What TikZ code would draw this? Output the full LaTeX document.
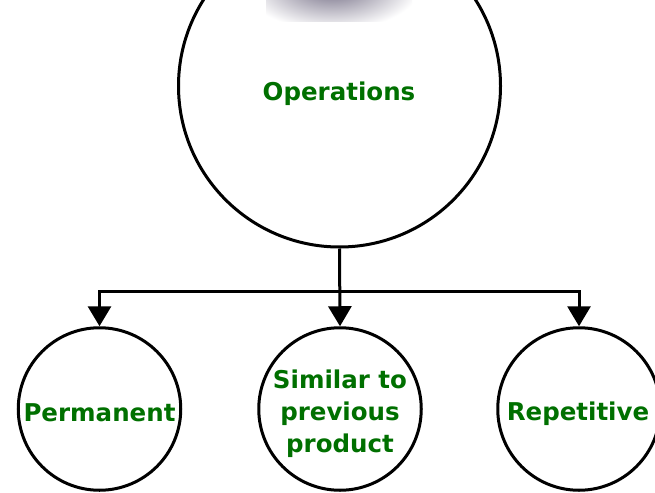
\documentclass[tikz,border=0pt]{standalone}
\usepackage{fontspec}
\setsansfont{DejaVu Sans}
\usetikzlibrary{arrows.meta}
\definecolor{labelgreen}{RGB}{0,112,0}
\definecolor{hazegray}{RGB}{112,106,130}
\tikzset{
  x=1pt, y=-1pt,
  outline/.style={draw=black, line width=3pt},
  rootcircle/.style={outline, circle, minimum size=322pt, inner sep=0pt},
  leafcircle/.style={outline, circle, minimum size=162.5pt, inner sep=0pt},
  caption/.style={text=labelgreen, font=\sffamily\bfseries\fontsize{24.5}{32}\selectfont,
    inner sep=0pt, align=center},
  oneline/.style={caption, text height=18pt, text depth=0pt},
  link/.style={draw=black, line width=3pt,
    -{Triangle[width=23pt,length=20pt]}},
}
\begin{document}
\begin{tikzpicture}
  \useasboundingbox (0,0) rectangle (655,492);
  \clip (0,0) rectangle (655,492);
  \fill[white] (0,0) rectangle (655,492);

  % root of the tree
  \node[rootcircle] (ops) at (339.5,86) {};
  \node[oneline] (opslabel) at (339,91) {Operations};

  % soft grey patch along the top edge
  \begin{scope}
    \clip (266,0) rectangle (412,22);
    \shade[inner color=hazegray, outer color=white] (332,-14) ellipse (88pt and 44pt);
  \end{scope}

  % three children
  \node[leafcircle] (perm) at (99.5,409) {};
  \node[leafcircle] (sim)  at (340,409) {};
  \node[leafcircle] (rep)  at (579,409) {};

  \node[oneline] (permlabel) at (99.5,412) {Permanent};
  \node[caption] (simlabel) at (340,413.5) {Similar to\\previous\\product};
  \node[oneline] (replabel) at (578,411) {Repetitive};

  % branching connectors
  \coordinate (fork) at (339.5,291);
  \draw[link] (ops.south) -- (sim.north);
  \draw[link] (fork) -| (perm.north);
  \draw[link] (fork) -| (rep.north);
\end{tikzpicture}
\end{document}
